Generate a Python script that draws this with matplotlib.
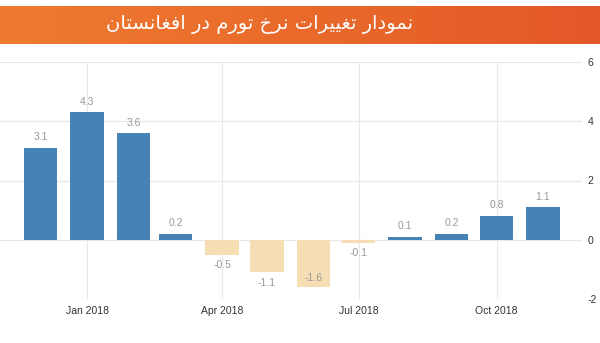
import numpy as np
import matplotlib
matplotlib.use("Agg")
import matplotlib.pyplot as plt
from matplotlib.colors import LinearSegmentedColormap
import datetime as dt

# ---- data ----
months = ["2017-12", "2018-01", "2018-02", "2018-03", "2018-04", "2018-05",
          "2018-06", "2018-07", "2018-08", "2018-09", "2018-10", "2018-11"]
values = [3.1, 4.3, 3.6, 0.2, -0.5, -1.1, -1.6, -0.1, 0.1, 0.2, 0.8, 1.1]
xtick_dates = ["2018-01", "2018-04", "2018-07", "2018-10"]
xtick_labels = ["Jan 2018", "Apr 2018", "Jul 2018", "Oct 2018"]
yticks = [-2, 0, 2, 4, 6]
title = "نمودار تغییرات نرخ تورم در افغانستان"

# ---- simple Arabic/Persian shaping (presentation forms) ----
FORMS = {  # iso, fin, ini, med
    'ا': ('\uFE8D', '\uFE8E', None, None),
    'ت': ('\uFE95', '\uFE96', '\uFE97', '\uFE98'),
    'خ': ('\uFEA5', '\uFEA6', '\uFEA7', '\uFEA8'),
    'د': ('\uFEA9', '\uFEAA', None, None),
    'ر': ('\uFEAD', '\uFEAE', None, None),
    'س': ('\uFEB1', '\uFEB2', '\uFEB3', '\uFEB4'),
    'غ': ('\uFECD', '\uFECE', '\uFECF', '\uFED0'),
    'ف': ('\uFED1', '\uFED2', '\uFED3', '\uFED4'),
    'م': ('\uFEE1', '\uFEE2', '\uFEE3', '\uFEE4'),
    'ن': ('\uFEE5', '\uFEE6', '\uFEE7', '\uFEE8'),
    'و': ('\uFEED', '\uFEEE', None, None),
    'ی': ('\uFBFC', '\uFBFD', '\uFEF3', '\uFEF4'),
}


def joins_left(c):
    return c in FORMS and FORMS[c][2] is not None


def shape(text):
    out = []
    for i, c in enumerate(text):
        if c not in FORMS:
            out.append(c)
            continue
        prev = text[i - 1] if i > 0 else ' '
        nxt = text[i + 1] if i + 1 < len(text) else ' '
        conn_prev = joins_left(prev)
        conn_next = joins_left(c) and nxt in FORMS
        iso, fin, ini, med = FORMS[c]
        if conn_prev and conn_next:
            out.append(med)
        elif conn_prev:
            out.append(fin)
        elif conn_next:
            out.append(ini)
        else:
            out.append(iso)
    return ''.join(out)[::-1]


dates = [dt.datetime.strptime(m, "%Y-%m") for m in months]
tick_d = [dt.datetime.strptime(m, "%Y-%m") for m in xtick_dates]

fig = plt.figure(figsize=(6.0, 3.43), dpi=100)
fig.patch.set_facecolor("white")

# banner
bax = fig.add_axes([0, 1 - 44 / 343, 1, 38 / 343])
grad = np.linspace(0, 1, 256).reshape(1, -1)
cmap = LinearSegmentedColormap.from_list("o", ["#EF7B30", "#E96A2B", "#E35828"])
bax.imshow(grad, aspect="auto", cmap=cmap, extent=[0, 1, 0, 1])
bax.set_xlim(0, 1)
bax.set_ylim(0, 1)
bax.axis("off")
bax.text(260 / 600, 0.5, shape(title), color="white", fontsize=14,
         family=["DejaVu Sans"], ha="center", va="center")

ax = fig.add_axes([0, 1 - 299 / 343, 582 / 600, (299 - 62) / 343])
colors = ["#4682B4" if v >= 0 else "#F5DEB3" for v in values]
ax.bar(dates, values, width=22.5, color=colors, zorder=2)

ax.set_ylim(-2, 6)
ax.set_xlim(dt.datetime(2017, 11, 4), dt.datetime(2018, 11, 27))
ax.set_yticks(yticks)
ax.set_yticklabels([str(t) for t in yticks])
ax.yaxis.tick_right()
ax.set_xticks(tick_d)
ax.set_xticklabels(xtick_labels)
ax.tick_params(axis="both", length=0, labelsize=7.5, labelcolor="#333333",
               pad=5)
ax.tick_params(axis="y", pad=4)
for lab in ax.get_xticklabels() + ax.get_yticklabels():
    lab.set_family("Liberation Sans")
ax.grid(True, color="#E8E8E8", linewidth=0.9, zorder=0)
for s in ax.spines.values():
    s.set_visible(False)

for d, v in zip(dates, values):
    if v >= 0:
        ax.annotate(f"{v:.1f}", (d, v), xytext=(0, 4), textcoords="offset points",
                    ha="center", va="bottom", fontsize=7.5, color="#999999",
                    family="Liberation Sans")
    elif v < -1.4:
        ax.annotate(f"{v:.1f}", (d, v), xytext=(0, 3), textcoords="offset points",
                    ha="center", va="bottom", fontsize=7.5, color="#999999",
                    family="Liberation Sans")
    else:
        ax.annotate(f"{v:.1f}", (d, v), xytext=(0, -4), textcoords="offset points",
                    ha="center", va="top", fontsize=7.5, color="#999999",
                    family="Liberation Sans")

fig.savefig("out.png", dpi=100)
